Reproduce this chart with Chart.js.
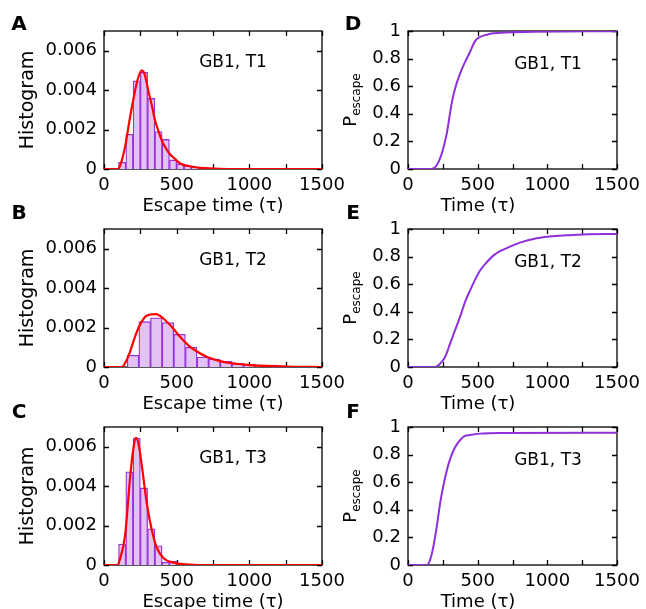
<!DOCTYPE html>
<html>
<head>
<meta charset="utf-8">
<script src="https://cdn.jsdelivr.net/npm/chart.js@4.4.1/dist/chart.umd.min.js"></script>
<style>
  html, body { margin: 0; padding: 0; background: #fff; }
  #wrap { position: relative; width: 646px; height: 609px; overflow: hidden; }
  canvas { position: absolute; }
</style>
</head>
<body>
<div id="wrap"></div>
<script>
// axis ticks
const xTicks = [0, 250, 500, 750, 1000, 1250, 1500];
const histTicks = [0, 0.002, 0.004, 0.006];
const probTicks = [0, 0.2, 0.4, 0.6, 0.8, 1];

// histogram A (bin centres in tau, 50 wide)
const binsA = [125, 175, 225, 275, 325, 375, 425, 475, 525, 575, 625, 675, 725, 775, 825, 875, 925, 975];
const histA = [0.00034, 0.00176, 0.00447, 0.0049, 0.00358, 0.0019, 0.0015, 0.00046, 0.00025, 0.00017, 0.0001, null, 0.00005, null, null, null, 0.00002, 0.00002];
const fitA_t = [0, 95, 110, 125, 147, 165, 181, 204, 230, 259, 275, 293, 310, 330, 350, 376, 400, 422, 454, 490, 523, 582, 620, 700, 800, 900, 1500];
const fitA_h = [0, 0, 0.00015, 0.0005, 0.0012, 0.002, 0.0027, 0.0036, 0.0045, 0.005, 0.0049, 0.0044, 0.0038, 0.0032, 0.0025, 0.0019, 0.0014, 0.0011, 0.00075, 0.0005, 0.00028, 0.00015, 0.0001, 0.00004, 0.00001, 0, 0];

// histogram B (bin centres, 80 wide)
const binsB = [200, 280, 360, 440, 520, 600, 680, 760, 840, 920, 1000, 1080, 1160];
const histB = [0.0006, 0.0023, 0.0025, 0.00225, 0.00166, 0.001, 0.0005, 0.0004, 0.00029, 0.00018, 0.00014, 0.0001, 0.0001];
const fitB_t = [0, 122, 144, 179, 213, 248, 293, 358, 408, 466, 523, 580, 637, 706, 798, 889, 1004, 1165, 1300, 1500];
const fitB_h = [0, 0, 0.00018, 0.00077, 0.00153, 0.00215, 0.0026, 0.00268, 0.00246, 0.00204, 0.00153, 0.0011, 0.0008, 0.00052, 0.0003, 0.00018, 0.0001, 0.00004, 0.00001, 0];

// histogram C (bin centres, 50 wide)
const binsC = [125, 175, 225, 275, 325, 375, 425, 475];
const histC = [0.00106, 0.00473, 0.00643, 0.00391, 0.00184, 0.00097, 0.00014, 0.0002];
const fitC_t = [0, 92, 110, 145, 179, 202, 218, 236, 259, 293, 328, 362, 408, 477, 569, 660, 1500];
const fitC_h = [0, 0, 0.0003, 0.0015, 0.0044, 0.0059, 0.00645, 0.0062, 0.0051, 0.0032, 0.0018, 0.0009, 0.00036, 0.00012, 0.00003, 0, 0];

// escape probability D, E, F
const cdfD_t = [0, 170, 206, 242, 278, 313, 337, 373, 409, 445, 481, 517, 565, 612, 708, 900, 1500];
const cdfD_p = [0, 0, 0.027, 0.11, 0.256, 0.473, 0.58, 0.69, 0.775, 0.848, 0.927, 0.957, 0.973, 0.983, 0.99, 0.995, 0.998];
const cdfE_t = [0, 194, 230, 266, 302, 337, 373, 409, 445, 481, 517, 565, 612, 660, 732, 804, 900, 1019, 1139, 1258, 1500];
const cdfE_p = [0, 0, 0.024, 0.072, 0.169, 0.265, 0.361, 0.47, 0.554, 0.631, 0.699, 0.759, 0.807, 0.839, 0.872, 0.901, 0.928, 0.945, 0.954, 0.961, 0.964];
const cdfF_t = [0, 134, 158, 182, 206, 230, 254, 278, 302, 337, 373, 409, 445, 517, 660, 1500];
const cdfF_p = [0, 0, 0.036, 0.132, 0.276, 0.444, 0.576, 0.683, 0.767, 0.851, 0.904, 0.935, 0.942, 0.952, 0.957, 0.959];

Chart.defaults.font.family = '"DejaVu Sans", sans-serif';
Chart.defaults.font.size = 18;
Chart.defaults.color = '#000';

const FONT = '"DejaVu Sans", sans-serif';
const cols = [
  { left: 104, right: 322, cx: 0, cw: 345, letterX: 19, noteX: 233, titleX: 213 },
  { left: 408, right: 617, cx: 330, cw: 316, letterX: 353, noteX: 548, titleX: 478 }
];
const rows = [
  { top: 31, bottom: 169, letterY: 25 },
  { top: 229, bottom: 367, letterY: 214 },
  { top: 427, bottom: 565, letterY: 413 }
];

const decor = {
  id: 'decor',
  beforeDatasetsDraw(chart, args, o) {
    const { ctx, chartArea: a, scales: { x, y } } = chart;
    ctx.save();
    ctx.strokeStyle = '#000';
    ctx.lineWidth = 1.3;
    ctx.strokeRect(a.left, a.top, a.width, a.height);
    ctx.beginPath();
    x.ticks.forEach(t => {
      const px = Math.round(x.getPixelForValue(t.value)) + 0.5;
      ctx.moveTo(px, a.bottom); ctx.lineTo(px, a.bottom - 5);
      ctx.moveTo(px, a.top); ctx.lineTo(px, a.top + 5);
    });
    y.ticks.forEach(t => {
      const py = Math.round(y.getPixelForValue(t.value)) + 0.5;
      ctx.moveTo(a.left, py); ctx.lineTo(a.left + 5, py);
      ctx.moveTo(a.right, py); ctx.lineTo(a.right - 5, py);
    });
    ctx.stroke();
    ctx.restore();
  },
  afterDraw(chart, args, o) {
    const ctx = chart.ctx;
    const a = chart.chartArea;
    ctx.save();
    ctx.fillStyle = '#000';
    ctx.textAlign = 'center';
    ctx.textBaseline = 'middle';
    ctx.font = 'bold 20px ' + FONT;
    ctx.fillText(o.letter, o.letterX - o.ox, o.letterY - o.oy);
    ctx.font = '17px ' + FONT;
    ctx.fillText(o.note, o.noteX - o.ox, o.noteY - o.oy);
    ctx.font = '18px ' + FONT;
    ctx.fillText(o.xTitle, o.titleX - o.ox, o.titleY - o.oy);
    const cy = (a.top + a.bottom) / 2;
    if (o.kind === 'hist') {
      ctx.save();
      ctx.translate(28 - o.ox, cy);
      ctx.rotate(-Math.PI / 2);
      ctx.font = '19px ' + FONT;
      ctx.fillText('Histogram', 0, 0);
      ctx.restore();
    } else {
      ctx.save();
      ctx.translate(356 - o.ox, cy);
      ctx.rotate(-Math.PI / 2);
      ctx.textAlign = 'left';
      ctx.textBaseline = 'alphabetic';
      ctx.font = '18px ' + FONT;
      const wP = ctx.measureText('P').width;
      ctx.font = '12px ' + FONT;
      const wS = ctx.measureText('escape').width;
      const start = -(wP + wS) / 2;
      ctx.font = '18px ' + FONT;
      ctx.fillText('P', start, 0);
      ctx.font = '12px ' + FONT;
      ctx.fillText('escape', start + wP, 4);
      ctx.restore();
    }
    ctx.restore();
  }
};

function pts(xs, ys) {
  return xs.map((v, i) => ({ x: v, y: ys[i] }));
}

function makePanel(p) {
  const c = cols[p.col], r = rows[p.row];
  const top = Math.max(0, r.top - 40);
  const bottom = Math.min(609, r.bottom + 48);
  const canvas = document.createElement('canvas');
  canvas.width = c.cw;
  canvas.height = bottom - top;
  canvas.style.left = c.cx + 'px';
  canvas.style.top = top + 'px';
  canvas.style.width = c.cw + 'px';
  canvas.style.height = (bottom - top) + 'px';
  document.getElementById('wrap').appendChild(canvas);

  const yw = c.left - c.cx;
  const xh = bottom - r.bottom;
  const hist = p.kind === 'hist';
  const yTicks = hist ? histTicks : probTicks;

  const datasets = [];
  if (hist) {
    datasets.push({
      type: 'line',
      data: pts(p.fitT, p.fitV),
      borderColor: '#ff0000',
      borderWidth: 2.2,
      pointRadius: 0,
      fill: false,
      cubicInterpolationMode: 'monotone',
      order: 1
    });
    datasets.push({
      type: 'bar',
      data: pts(p.bins, p.hist),
      backgroundColor: '#e2c3f3',
      borderColor: '#9a32dc',
      borderWidth: 1.3,
      barPercentage: 1,
      categoryPercentage: 1,
      order: 2
    });
  } else {
    datasets.push({
      type: 'line',
      data: pts(p.fitT, p.fitV),
      borderColor: '#9030dc',
      borderWidth: 2,
      pointRadius: 0,
      fill: false,
      cubicInterpolationMode: 'monotone'
    });
  }

  new Chart(canvas.getContext('2d'), {
    type: hist ? 'bar' : 'line',
    data: { datasets },
    options: {
      responsive: false,
      animation: false,
      devicePixelRatio: 1,
      events: [],
      layout: { padding: { left: 0, right: c.cx + c.cw - c.right, top: r.top - top, bottom: 0 } },
      plugins: {
        legend: { display: false },
        tooltip: { enabled: false },
        decor: {
          kind: p.kind, letter: p.letter, note: p.note,
          xTitle: hist ? 'Escape time (\u03c4)' : 'Time (\u03c4)',
          ox: c.cx, oy: top,
          letterX: c.letterX, letterY: r.letterY,
          noteX: c.noteX, noteY: r.top + (hist ? 32 : 34),
          titleX: c.titleX, titleY: r.bottom + 37
        }
      },
      scales: {
        x: {
          type: 'linear', min: 0, max: 1500, offset: false,
          grid: { display: false, drawTicks: false, offset: false },
          border: { display: false },
          afterBuildTicks: s => { s.ticks = xTicks.map(v => ({ value: v })); },
          ticks: {
            autoSkip: false, maxRotation: 0, minRotation: 0, padding: 6,
            callback: v => (v % 500 === 0 ? String(v) : '')
          },
          afterFit: s => { s.height = xh; s.paddingLeft = 0; s.paddingRight = 0; }
        },
        y: {
          type: 'linear', min: 0, max: hist ? 0.007 : 1,
          grid: { display: false, drawTicks: false },
          border: { display: false },
          afterBuildTicks: s => { s.ticks = yTicks.map(v => ({ value: v })); },
          ticks: {
            padding: 7,
            callback: v => (v === 0 ? '0' : hist ? v.toFixed(3) : String(v))
          },
          afterFit: s => { s.width = yw; s.paddingTop = 0; s.paddingBottom = 0; }
        }
      }
    },
    plugins: [decor]
  });
}

makePanel({ col: 0, row: 0, kind: 'hist', letter: 'A', note: 'GB1, T1', bins: binsA, hist: histA, fitT: fitA_t, fitV: fitA_h });
makePanel({ col: 0, row: 1, kind: 'hist', letter: 'B', note: 'GB1, T2', bins: binsB, hist: histB, fitT: fitB_t, fitV: fitB_h });
makePanel({ col: 0, row: 2, kind: 'hist', letter: 'C', note: 'GB1, T3', bins: binsC, hist: histC, fitT: fitC_t, fitV: fitC_h });
makePanel({ col: 1, row: 0, kind: 'cdf', letter: 'D', note: 'GB1, T1', fitT: cdfD_t, fitV: cdfD_p });
makePanel({ col: 1, row: 1, kind: 'cdf', letter: 'E', note: 'GB1, T2', fitT: cdfE_t, fitV: cdfE_p });
makePanel({ col: 1, row: 2, kind: 'cdf', letter: 'F', note: 'GB1, T3', fitT: cdfF_t, fitV: cdfF_p });
</script>
</body>
</html>
